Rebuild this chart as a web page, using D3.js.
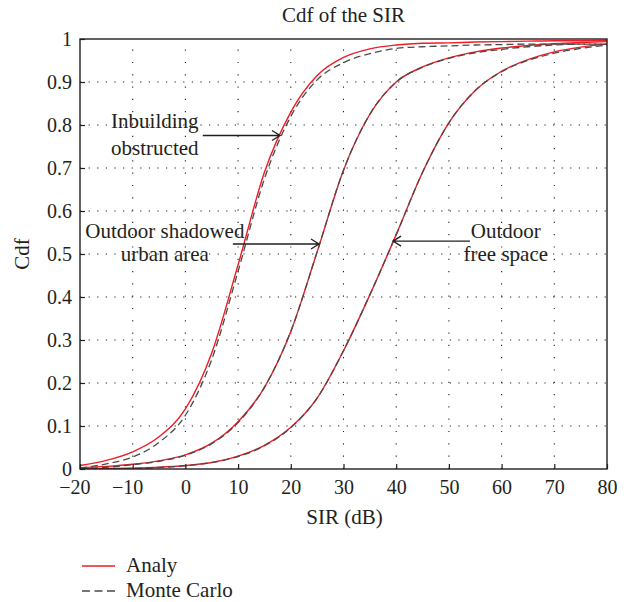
<!DOCTYPE html>
<html>
<head>
<meta charset="utf-8">
<script src="https://cdn.jsdelivr.net/npm/d3@7"></script>
<style>
  html, body { margin: 0; padding: 0; background: #fff; }
  svg { display: block; }
  text { font-family: "Liberation Serif", "DejaVu Serif", serif; fill: #231f20; }
</style>
</head>
<body>
<svg id="chart" width="639" height="602"></svg>
<script>
// ---------------- data ----------------
const sir = [-20, -15, -10, -5, 0, 5, 10, 15, 20, 25, 30, 35, 40, 45, 50, 55, 60, 65, 70, 75, 80];

const inbuildingAnaly = [0.008, 0.02, 0.04, 0.075, 0.14, 0.27, 0.475, 0.69, 0.83, 0.915, 0.957, 0.977, 0.986, 0.99, 0.991, 0.993, 0.994, 0.995, 0.996, 0.996, 0.997];
const inbuildingMC    = [0.002, 0.012, 0.028, 0.062, 0.125, 0.255, 0.46, 0.675, 0.82, 0.905, 0.945, 0.966, 0.978, 0.982, 0.984, 0.986, 0.987, 0.988, 0.988, 0.988, 0.988];

const shadowedAnaly = [0.003, 0.006, 0.011, 0.019, 0.033, 0.06, 0.11, 0.19, 0.32, 0.505, 0.695, 0.825, 0.9, 0.935, 0.956, 0.97, 0.979, 0.985, 0.989, 0.992, 0.994];
const shadowedMC    = [0.001, 0.004, 0.01, 0.018, 0.032, 0.059, 0.108, 0.19, 0.32, 0.505, 0.695, 0.825, 0.9, 0.934, 0.955, 0.968, 0.976, 0.982, 0.986, 0.988, 0.988];

const freeAnaly = [0.0005, 0.001, 0.002, 0.004, 0.008, 0.015, 0.03, 0.055, 0.097, 0.165, 0.275, 0.405, 0.545, 0.69, 0.805, 0.88, 0.925, 0.952, 0.97, 0.981, 0.988];
const freeMC    = [0.0, 0.0005, 0.0015, 0.0035, 0.0075, 0.015, 0.029, 0.054, 0.096, 0.165, 0.275, 0.405, 0.545, 0.69, 0.805, 0.88, 0.924, 0.95, 0.967, 0.978, 0.986];

const xTicks = [-20, -10, 0, 10, 20, 30, 40, 50, 60, 70, 80];
const yTicks = [0, 0.1, 0.2, 0.3, 0.4, 0.5, 0.6, 0.7, 0.8, 0.9, 1];

const seriesNames = ["Analy", "Monte Carlo"];
const chartTitle = "Cdf of the SIR";
const xTitle = "SIR (dB)";
const yTitle = "Cdf";

// annotations in data units: text centre x, line baselines (cdf), arrow from/to
const annoLines  = [["Inbuilding", "obstructed"], ["Outdoor shadowed", "urban area"], ["Outdoor", "free space"]];
const annoTextX  = [-5.8, -3.9, 60.8];
const annoTextY  = [[0.794, 0.730], [0.5365, 0.4826], [0.5365, 0.4826]];
const annoArrowX = [[3.3, 17.95], [9.0, 25.35], [54.0, 39.4]];
const annoArrowY = [0.7756, 0.5233, 0.530];

// ---------------- layout ----------------
const W = 639, H = 602;
const mLeft = 80, mRight = 607, mTop = 39, mBottom = 469;
const FS_TICK = 20, FS = 21;
const RED = "#ee1c25", GREY = "#4a4a4a", INK = "#231f20";

const svg = d3.select("#chart");
svg.append("rect").attr("width", W).attr("height", H).attr("fill", "#fff");

const x = d3.scaleLinear().domain([-20, 80]).range([mLeft, mRight]);
const y = d3.scaleLinear().domain([0, 1]).range([mBottom, mTop]);

// grid
const grid = svg.append("g");
grid.selectAll("line.vg").data(xTicks.slice(1, -1)).join("line")
  .attr("x1", d => x(d)).attr("x2", d => x(d))
  .attr("y1", mBottom).attr("y2", mTop)
  .attr("stroke", INK).attr("stroke-width", 1.1).attr("stroke-dasharray", "1.2,11.1");
grid.selectAll("line.hg").data(yTicks.slice(1, -1)).join("line")
  .attr("x1", mLeft).attr("x2", mRight)
  .attr("y1", d => y(d)).attr("y2", d => y(d))
  .attr("stroke", INK).attr("stroke-width", 1.1).attr("stroke-dasharray", "1.2,7.4");

// curves
const line = d3.line().x((d, i) => x(sir[i])).y(d => y(d)).curve(d3.curveMonotoneX);
svg.append("clipPath").attr("id", "clip").append("rect")
  .attr("x", mLeft).attr("y", mTop - 2).attr("width", mRight - mLeft).attr("height", mBottom - mTop + 2);
const plot = svg.append("g").attr("clip-path", "url(#clip)");
[inbuildingAnaly, shadowedAnaly, freeAnaly].forEach(s => {
  plot.append("path").attr("d", line(s)).attr("fill", "none")
    .attr("stroke", RED).attr("stroke-width", 1.4);
});
[inbuildingMC, shadowedMC, freeMC].forEach(s => {
  plot.append("path").attr("d", line(s)).attr("fill", "none")
    .attr("stroke", GREY).attr("stroke-width", 1.3).attr("stroke-dasharray", "7,4");
});

// axes
const fmtX = d => d < 0 ? "\u2212" + Math.abs(d) : String(d);
const fmtY = d => String(+d.toFixed(1));

const gx = svg.append("g").attr("transform", `translate(0,${mBottom})`)
  .call(d3.axisBottom(x).tickValues(xTicks).tickFormat(fmtX).tickSize(-5).tickPadding(11));
const gy = svg.append("g").attr("transform", `translate(${mLeft},0)`)
  .call(d3.axisLeft(y).tickValues(yTicks).tickFormat(fmtY).tickSize(-5).tickPadding(8));
[gx, gy].forEach(g => {
  g.select(".domain").remove();
  g.selectAll(".tick line").attr("stroke", INK).attr("stroke-width", 1.2);
  g.selectAll("text").attr("font-family", "Liberation Serif").attr("font-size", FS_TICK).attr("fill", INK);
});
gy.selectAll("text").attr("dy", "0.34em");
gx.selectAll("text").attr("dy", "0.68em");
// center the digits on the tick, let the minus hang to the left
gx.selectAll(".tick text").each(function() {
  const t = this.textContent;
  if (t.startsWith("\u2212")) {
    const total = this.getComputedTextLength();
    const mw = this.getSubStringLength(0, 1);
    const dw = total - mw;
    d3.select(this).attr("text-anchor", "start").attr("x", -mw - dw / 2);
  }
});

// frame
svg.append("rect").attr("x", mLeft).attr("y", mTop).attr("width", mRight - mLeft).attr("height", mBottom - mTop)
  .attr("fill", "none").attr("stroke", INK).attr("stroke-width", 1.4);

// titles
svg.append("text").attr("x", (mLeft + mRight) / 2).attr("y", 22).attr("text-anchor", "middle")
  .attr("font-size", FS).text(chartTitle);
svg.append("text").attr("x", (mLeft + mRight) / 2 + 1).attr("y", 524).attr("text-anchor", "middle")
  .attr("font-size", FS).text(xTitle);
svg.append("text").attr("transform", `translate(29,${y(0.5)}) rotate(-90)`).attr("text-anchor", "middle")
  .attr("font-size", FS).text(yTitle);

// annotations
annoLines.forEach((lines, i) => {
  lines.forEach((s, j) => {
    svg.append("text").attr("x", x(annoTextX[i])).attr("y", y(annoTextY[i][j]))
      .attr("text-anchor", "middle").attr("font-size", FS).text(s);
  });
  const x0 = x(annoArrowX[i][0]), x1 = x(annoArrowX[i][1]), yy = y(annoArrowY[i]);
  const dir = Math.sign(x1 - x0);
  svg.append("path")
    .attr("d", `M${x0},${yy}H${x1}M${x1 - dir * 8},${yy - 5}L${x1},${yy}L${x1 - dir * 8},${yy + 5}`)
    .attr("fill", "none").attr("stroke", INK).attr("stroke-width", 1.3);
});

// legend
const lg = svg.append("g");
const legY = [566, 591], legTextY = [572, 597];
seriesNames.forEach((n, i) => {
  lg.append("line").attr("x1", 82).attr("x2", 115).attr("y1", legY[i]).attr("y2", legY[i])
    .attr("stroke", i === 0 ? RED : GREY).attr("stroke-width", 1.4)
    .attr("stroke-dasharray", i === 0 ? null : "8,4.5");
  lg.append("text").attr("x", 126).attr("y", legTextY[i]).attr("font-size", FS).text(n);
});
</script>
</body>
</html>
